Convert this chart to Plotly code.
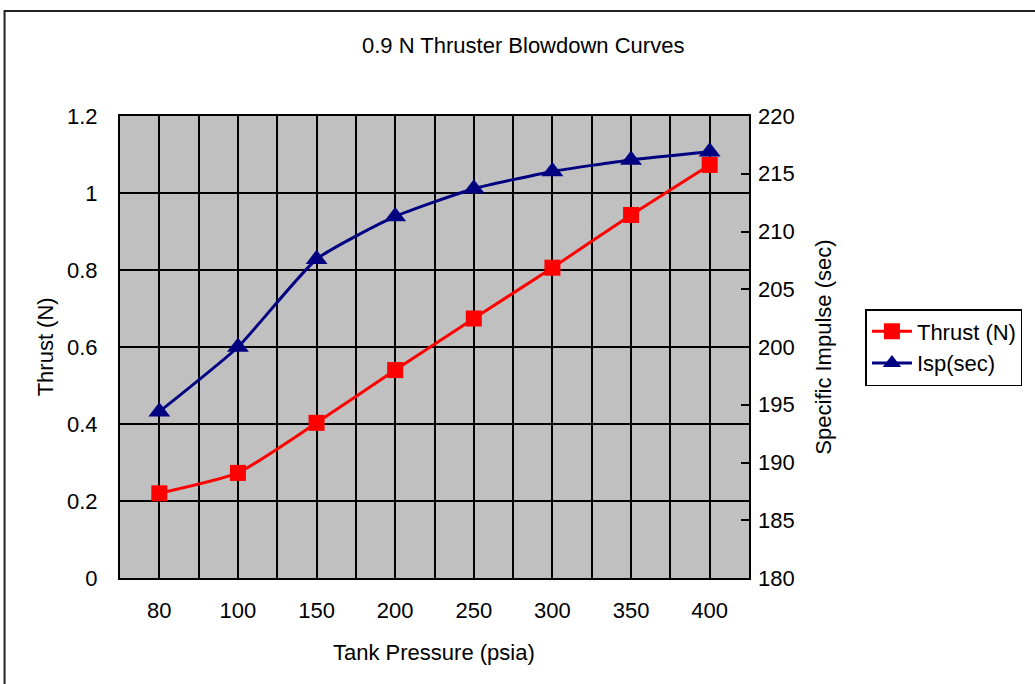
import plotly.graph_objects as go

categories = ["80", "100", "150", "200", "250", "300", "350", "400"]
thrust = [0.22, 0.273, 0.403, 0.54, 0.674, 0.806, 0.943, 1.073]
isp = [194.4, 200.0, 207.6, 211.3, 213.7, 215.2, 216.2, 216.9]
left_ticks = [0, 0.2, 0.4, 0.6, 0.8, 1.0, 1.2]
left_ticktext = ["0", "0.2", "0.4", "0.6", "0.8", "1", "1.2"]
right_ticks = [180, 185, 190, 195, 200, 205, 210, 215, 220]

FONT = "Liberation Sans, Arial, sans-serif"
FS = 22

xidx = list(range(len(categories)))
boundaries = [i - 0.5 for i in range(len(categories) + 1)]

fig = go.Figure()
fig.add_trace(go.Scatter(
    x=xidx, y=thrust, name="Thrust (N)", mode="lines+markers",
    line=dict(color="#FF0000", width=3, shape="spline", smoothing=0.5),
    marker=dict(symbol="square", size=16, color="#FF0000"),
    yaxis="y"))
fig.add_trace(go.Scatter(
    x=xidx, y=isp, name="Isp(sec)", mode="lines+markers",
    line=dict(color="#000080", width=3, shape="spline", smoothing=0.5),
    marker=dict(symbol="triangle-up", size=19, color="#000080"),
    yaxis="y2"))

W, H = 1035, 684
L, R, T, B = 120, 752, 116, 578
pw, ph = R - L, B - T

def px(x):
    return (x - L) / pw

def py(y):
    return (B - y) / ph

fig.update_layout(
    width=W, height=H,
    margin=dict(l=L, r=W - R, t=T, b=H - B, pad=0),
    paper_bgcolor="white", plot_bgcolor="#C0C0C0",
    font=dict(family=FONT, size=FS, color="black"),
    showlegend=True,
    legend=dict(x=px(869), y=py(309), xanchor="left", yanchor="top",
                bordercolor="black", borderwidth=1.5, bgcolor="white",
                font=dict(size=FS), tracegroupgap=0, itemwidth=40),
    xaxis=dict(range=[-0.5, len(categories) - 0.5], tickvals=xidx, ticktext=categories,
               showgrid=True, gridcolor="black", gridwidth=1.5,
               minor=dict(tickvals=boundaries, showgrid=True, gridcolor="black", gridwidth=1.5),
               showline=True, linecolor="black", linewidth=2, mirror=True,
               ticks="", zeroline=False, ticklabelstandoff=12, fixedrange=True),
    yaxis=dict(range=[0, 1.2], tickvals=left_ticks, ticktext=left_ticktext,
               showgrid=True, gridcolor="black", gridwidth=1.5,
               showline=True, linecolor="black", linewidth=2, mirror=True,
               ticks="", zeroline=False, ticklabelstandoff=16),
    yaxis2=dict(range=[180, 220], tickvals=right_ticks, overlaying="y", side="right",
                showgrid=False, showline=False, ticks="inside", ticklen=8,
                tickcolor="black", tickwidth=1.5, zeroline=False, ticklabelstandoff=8),
    shapes=[dict(type="rect", xref="paper", yref="paper",
                 x0=px(4), y0=py(900), x1=px(1300), y1=py(11),
                 line=dict(color="#222222", width=2), layer="below")],
    annotations=[
        dict(text="0.9 N Thruster Blowdown Curves", xref="paper", yref="paper",
             x=px(525), y=py(45), xanchor="center", yanchor="middle",
             showarrow=False, font=dict(size=FS)),
        dict(text="Thrust (N)", xref="paper", yref="paper", x=px(45), y=0.5,
             xanchor="center", yanchor="middle",
             textangle=-90, showarrow=False, font=dict(size=FS)),
        dict(text="Specific Impulse (sec)", xref="paper", yref="paper", x=px(826), y=0.5,
             xanchor="center", yanchor="middle",
             textangle=-90, showarrow=False, font=dict(size=FS)),
        dict(text="Tank Pressure (psia)", xref="paper", yref="paper", x=px(435), y=py(652),
             xanchor="center", yanchor="middle",
             showarrow=False, font=dict(size=FS)),
    ],
)

fig.write_html("out.html")
